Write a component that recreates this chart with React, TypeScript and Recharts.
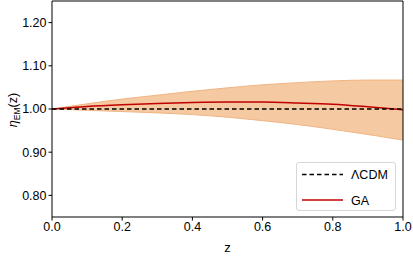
import React from 'react';
import { ComposedChart, Area, Line, XAxis, YAxis, ReferenceLine } from 'recharts';

const zValues = [0, 0.1, 0.2, 0.3, 0.4, 0.5, 0.6, 0.7, 0.8, 0.9, 1.0];
const bandUpper = [1.0, 1.012, 1.023, 1.032, 1.041, 1.049, 1.056, 1.061, 1.065, 1.067, 1.067];
const bandLower = [1.0, 0.997, 0.994, 0.991, 0.987, 0.981, 0.973, 0.964, 0.953, 0.941, 0.928];
const gaValues = [1.0, 1.006, 1.010, 1.013, 1.015, 1.016, 1.016, 1.014, 1.011, 1.005, 0.998];
const lcdmValues = [1, 1, 1, 1, 1, 1, 1, 1, 1, 1, 1];
const xTicks = [0, 0.2, 0.4, 0.6, 0.8, 1.0];
const yTicks = [0.8, 0.9, 1.0, 1.1, 1.2];

const data = zValues.map((z, i) => ({
  z,
  band: [bandLower[i], bandUpper[i]],
  ga: gaValues[i],
  lcdm: lcdmValues[i],
}));

const FONT = '"Liberation Sans", Arial, sans-serif';

const LegendBox = () => (
  <div
    style={{
      position: 'absolute',
      left: 296,
      top: 162,
      width: 100,
      height: 49,
      border: '1px solid #d6d6d6',
      borderRadius: 3,
      background: 'rgba(255,255,255,0.85)',
      boxSizing: 'border-box',
      fontFamily: FONT,
      fontSize: 12.5,
      color: '#000',
    }}
  >
    <svg width={100} height={49} style={{ position: 'absolute', left: 0, top: 0 }}>
      <line x1={5} x2={46} y1={11.5} y2={11.5} stroke="#000" strokeWidth={1.5} strokeDasharray="4.5 3" />
      <line x1={5} x2={46} y1={37} y2={37} stroke="#c00000" strokeWidth={1.5} />
      <text x={54} y={16} fontFamily={FONT} fontSize={12.5} fill="#000">ΛCDM</text>
      <text x={54} y={41.5} fontFamily={FONT} fontSize={12.5} fill="#000">GA</text>
    </svg>
  </div>
);

const YLabel = () => (
  <text
    transform="translate(17,110) rotate(-90)"
    textAnchor="middle"
    fontFamily={FONT}
    fontSize={12.5}
    fill="#000"
  >
    <tspan fontStyle="italic">η</tspan>
    <tspan fontSize={8.5} dy={3}>EM</tspan>
    <tspan dy={-3}>(z)</tspan>
  </text>
);

export default function App() {
  return (
    <div style={{ position: 'absolute', left: 0, top: 0, width: 413, height: 258, background: '#fff' }}>
      <ComposedChart
        width={413}
        height={258}
        data={data}
        margin={{ top: 1, right: 10, bottom: 0, left: 0 }}
      >
        <XAxis
          dataKey="z"
          type="number"
          domain={[0, 1]}
          ticks={xTicks}
          tickFormatter={(v: number) => v.toFixed(1)}
          height={41}
          stroke="#000"
          tickLine={{ stroke: '#000' }}
          tickSize={3.5}
          tick={{ fill: '#000', fontSize: 12.5, fontFamily: FONT }}
          label={{ value: 'z', position: 'insideBottom', offset: 6, fill: '#000', fontSize: 13, fontFamily: FONT }}
          allowDataOverflow
        />
        <YAxis
          type="number"
          domain={[0.75, 1.25]}
          ticks={yTicks}
          tickFormatter={(v: number) => v.toFixed(2)}
          width={52}
          stroke="#000"
          tickSize={3.5}
          tick={{ fill: '#000', fontSize: 12.5, fontFamily: FONT }}
          label={<YLabel />}
          allowDataOverflow
        />
        <Area
          dataKey="band"
          type="monotone"
          fill="#f5c9a1"
          fillOpacity={1}
          stroke="#f0b583"
          strokeWidth={1}
          isAnimationActive={false}
          legendType="none"
        />
        <Line
          dataKey="ga"
          type="monotone"
          stroke="#c00000"
          strokeWidth={1.5}
          dot={false}
          isAnimationActive={false}
        />
        <Line
          dataKey="lcdm"
          type="linear"
          stroke="#000"
          strokeWidth={1.5}
          strokeDasharray="4.5 3"
          dot={false}
          isAnimationActive={false}
        />
        <ReferenceLine y={1.25} stroke="#000" strokeWidth={1} />
        <ReferenceLine x={1} stroke="#000" strokeWidth={1} />
      </ComposedChart>
      <LegendBox />
    </div>
  );
}
